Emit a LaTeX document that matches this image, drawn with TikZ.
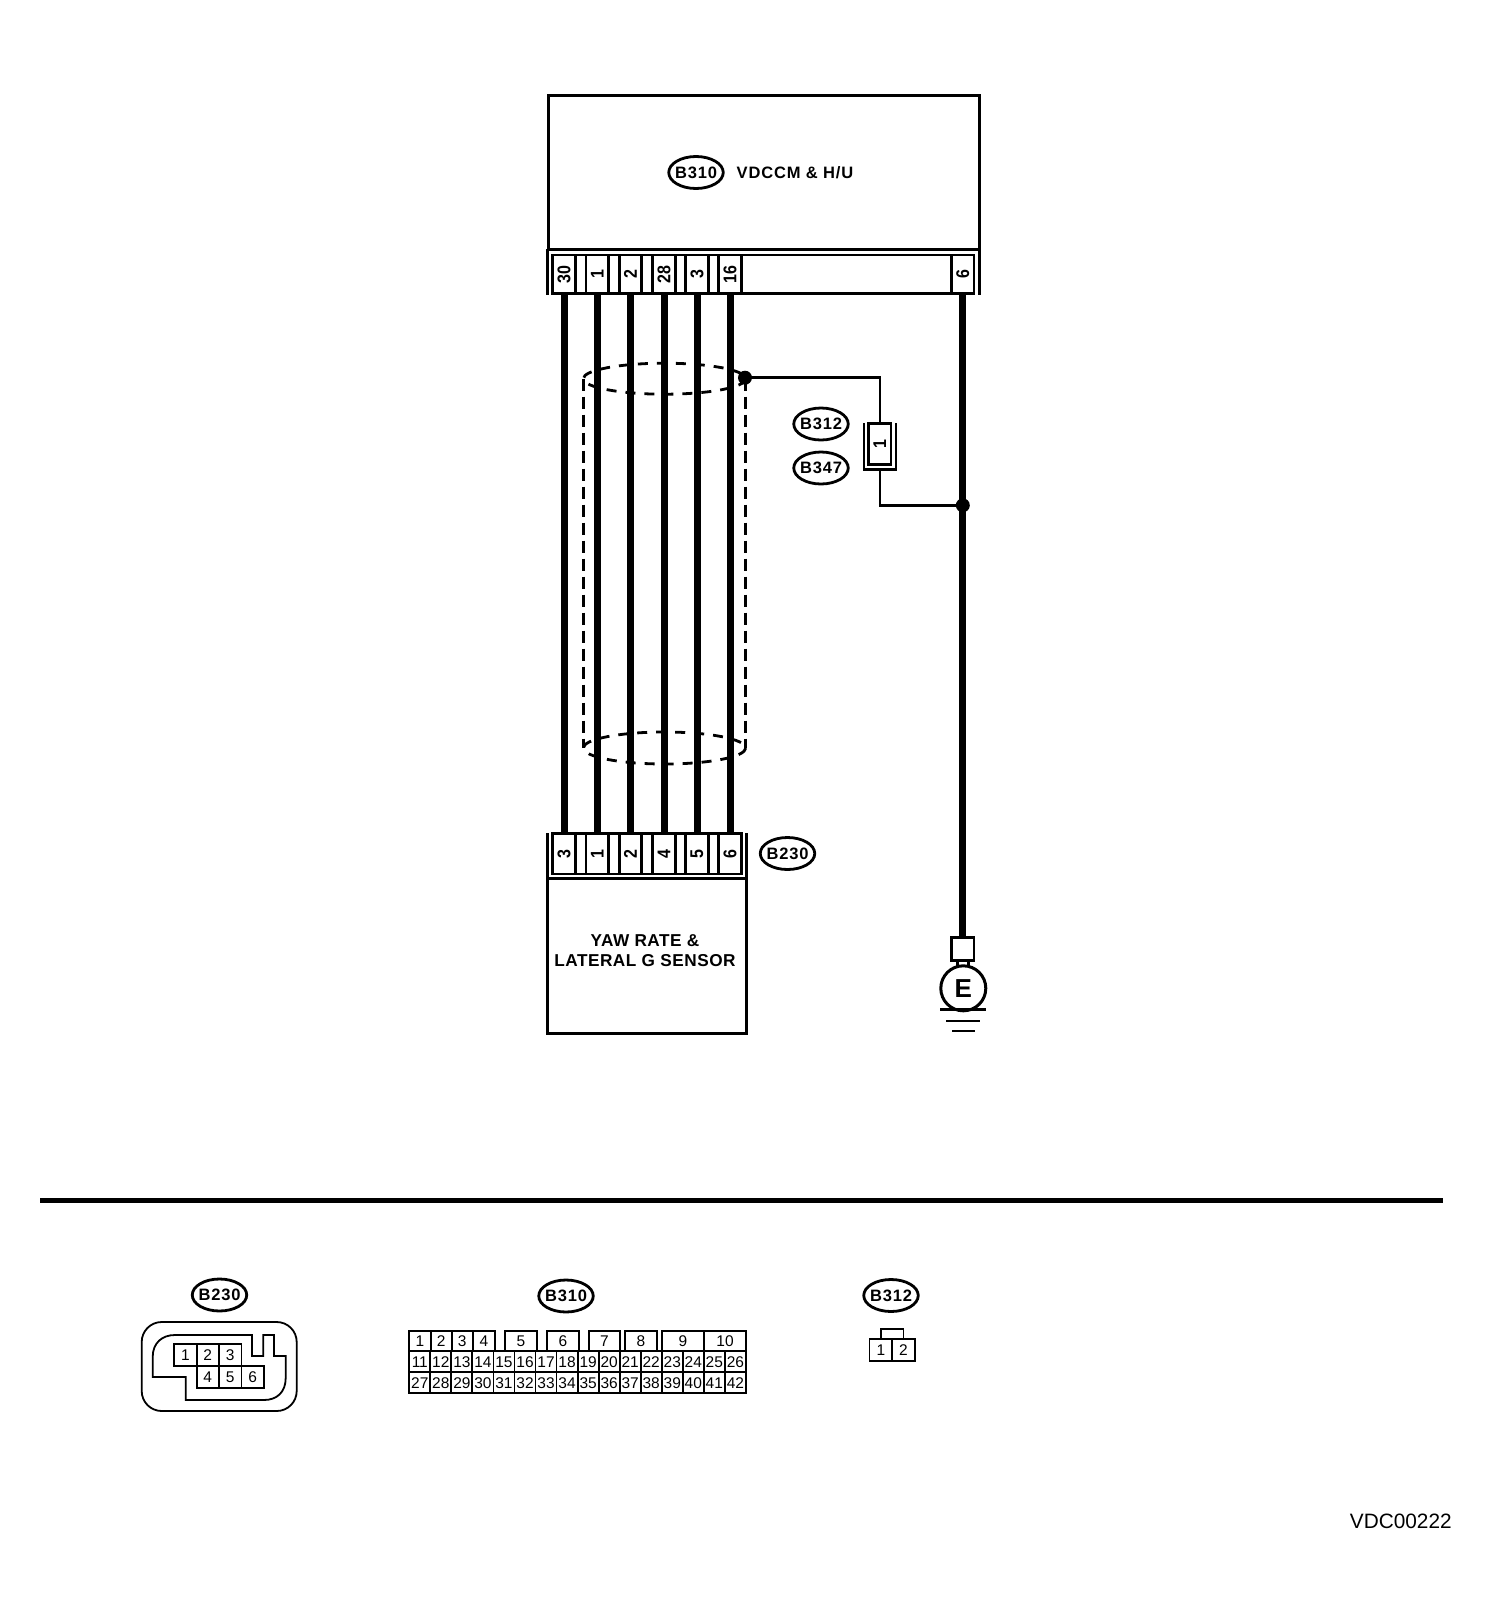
\documentclass[tikz,border=0pt]{standalone}
\usepackage{fontspec}
\setmainfont{Liberation Sans}
\newfontfamily\tagfont[LetterSpace=5,BoldFont={Liberation Sans Bold}]{Liberation Sans}
\newfontfamily\boxfont[LetterSpace=3,BoldFont={Liberation Sans Bold}]{Liberation Sans}
\usetikzlibrary{shapes.geometric}
\tikzset{
 x=1pt,y=-1pt,
 heavy/.style={line width=3pt},
 wire/.style={line width=7pt},
 thinw/.style={line width=2.8pt},
 shield/.style={line width=2.8pt,dash pattern=on 12pt off 6pt},
 shieldring/.style={line width=2.8pt,dash pattern=on 10pt off 9pt},
 pin/.style={draw,line width=2.6pt,minimum width=22.5pt,inner sep=0pt,font=\fontsize{16}{16}\selectfont\bfseries},
 tag/.style={draw,ellipse,line width=2.8pt,minimum width=54.5pt,minimum height=32pt,inner ysep=0pt,inner xsep=-3pt,font=\fontsize{16.5}{17}\tagfont\bfseries},
 lbl/.style={inner sep=0pt,font=\fontsize{16.5}{17}\tagfont\bfseries},
 cell/.style={draw,line width=1.8pt,inner sep=0pt,text height=11.2pt,text depth=0pt,font=\fontsize{15.5}{16}\selectfont},
 dot/.style={circle,fill=black,inner sep=0pt,minimum size=14pt},
}
\newcommand{\pinlabel}[1]{\rotatebox{90}{\scalebox{1}[1.15]{#1}}}
\begin{document}
\begin{tikzpicture}
\useasboundingbox (0,0) rectangle (1504,1612);
% top unit
\node[draw,heavy,minimum width=431pt,minimum height=153.5pt,inner sep=0pt] (unit) at (764.2,172.5) {};
\node[tag] (b310top) at (696,172.5) {B310};
\node[lbl,anchor=west] (unitlbl) at (736.5,173) {VDCCM \& H/U};
\draw[heavy] (547.5,249.3) -- (547.5,295) (979.7,249.3) -- (979.7,295);
\node[draw,thinw,minimum width=421pt,minimum height=38.5pt,inner sep=0pt] (tstrip) at (763.4,274.2) {};
\foreach \n/\x/\t in {a/564/30,b/597.3/1,c/630.5/2,d/664/28,e/697/3,f/730/16,g/962.8/6}{
  \node[pin,minimum height=38.5pt] (t\n) at (\x,274.2) {\pinlabel{\t}};
}
% bottom unit
\node[draw,heavy,minimum width=199.5pt,minimum height=155pt,inner sep=0pt] (sensor) at (647,955.5) {};
\node[lbl,align=center,font=\fontsize{17.2}{19.5}\boxfont\bfseries] (sensorlbl) at (645,950.5) {YAW RATE \&\\LATERAL G SENSOR};
\draw[heavy] (547.3,833) -- (547.3,878) (746.7,833) -- (746.7,878);
\node[draw,thinw,minimum width=189pt,minimum height=40.7pt,inner sep=0pt] (bstrip) at (647.2,853.6) {};
\foreach \n/\x/\t in {a/564/3,b/597.3/1,c/630.5/2,d/664/4,e/697/5,f/730/6}{
  \node[pin,minimum height=40.7pt] (s\n) at (\x,853.6) {\pinlabel{\t}};
}
\node[tag] (b230top) at (787.5,853.5) {B230};
% shield
\coordinate (shTL) at (583.3,378.7);
\coordinate (shTR) at (745.7,378.7);
\coordinate (shBL) at (583.3,748);
\coordinate (shBR) at (745.7,748);
\draw[shieldring] (664.5,378.7) ellipse [x radius=81.2,y radius=15.5];
\draw[shieldring] (664.5,748) ellipse [x radius=81.2,y radius=16];
\draw[shield] (shTL) -- (shBL);
\draw[shield] (shTR) -- (shBR);
% wires
\foreach \n in {a,b,c,d,e,f}{ \draw[wire] (t\n.south) -- (s\n.north); }
% ground
\node[draw,thinw,minimum size=22.5pt,inner sep=0pt] (gbox) at (962.8,949) {};
\node[draw,circle,line width=3pt,minimum size=45pt,inner sep=0pt,font=\fontsize{26}{26}\selectfont\bfseries] (gnd) at (963.3,988.3) {E};
\draw[wire] (tg.south) -- (gbox.north);
\draw[thinw] (957.5,960) -- (957.5,967) (968.5,960) -- (968.5,967);
\draw[thinw] (940,1009.3) -- (986,1009.3);
\draw[thinw] (946,1021) -- (980,1021);
\draw[thinw] (952,1031) -- (975,1031);
% splice and fuse
\node[dot] (sp1) at (745,377.7) {};
\node[dot] (sp2) at (962.8,505.3) {};
\node[pin,minimum height=41pt] (fuse) at (879.7,443.7) {\pinlabel{1}};
\draw[thinw] (864,423) -- (864,469.3) -- (896,469.3) -- (896,423);
\coordinate (fx) at (880,469.3);
\draw[thinw] (sp1.center) -- (880,377.7) -- (880,423.2);
\draw[thinw] (fx) -- (880,505.3) -- (sp2.center);
\node[tag] (b312top) at (821,424) {B312};
\node[tag] (b347top) at (821,468) {B347};
% rule
\draw[line width=4.5pt] (40,1200.7) -- (1443,1200.7);
% B230 connector view
\node[tag] (b230) at (219.5,1295) {B230};
\draw[line width=1.8pt,rounded corners=20pt] (141.7,1322) rectangle (296.7,1411);
\draw[line width=1.8pt] (152.7,1377) -- (152.7,1357) .. controls (152.7,1343) and (162,1335) .. (175,1335) -- (252,1335) -- (252,1356) -- (263.3,1356) -- (263.3,1335) -- (274,1335) -- (274,1356) -- (285.7,1356) -- (285.7,1378) .. controls (285.7,1392) and (277,1400) .. (264,1400) -- (185.7,1400) -- (185.7,1377) -- cycle;
\foreach \n/\x/\y/\t in {1/185.5/1355/1,2/207.8/1355/2,3/230.3/1355/3,4/207.8/1377/4,5/230.3/1377/5,6/252.7/1377/6}{
  \node[cell,minimum width=22.4pt,minimum height=22pt] (p\n) at (\x,\y) {\t};
}
% B310 connector view
\node[tag] (b310) at (566,1296) {B310};
\foreach \n/\xa/\xb in {1/409.3/430.7,2/430.7/451.7,3/451.7/472.7,4/472.7/495,5/505/536.7,6/546.7/579,7/588.7/620,8/625/656.7,9/661.7/704,10/704/746}{
  \node[cell,minimum width={\xb-\xa},minimum height=20.5pt] (q\n) at ({(\xa+\xb)/2},1341) {\n};
}
\foreach \k in {0,...,15}{
  \pgfmathtruncatemacro{\na}{11+\k}
  \pgfmathtruncatemacro{\nb}{27+\k}
  \node[cell,minimum width=21pt,minimum height=21.3pt] (q\na) at ({419.8+21.04*\k},1361.7) {\na};
  \node[cell,minimum width=21pt,minimum height=21pt] (q\nb) at ({419.8+21.04*\k},1382.8) {\nb};
}
% B312 connector view
\node[tag] (b312) at (891,1295.5) {B312};
\node[cell,minimum width=22.5pt,minimum height=22pt] (r1) at (880.8,1350) {1};
\node[cell,minimum width=22.5pt,minimum height=22pt] (r2) at (903.4,1350) {2};
\draw[line width=1.6pt] (880.7,1339) -- (880.7,1328.7) -- (903.3,1328.7) -- (903.3,1339);
% id
\node[inner sep=0pt,font=\fontsize{20.8}{21}\selectfont] (id) at (1400.8,1521) {VDC00222};
\end{tikzpicture}
\end{document}
